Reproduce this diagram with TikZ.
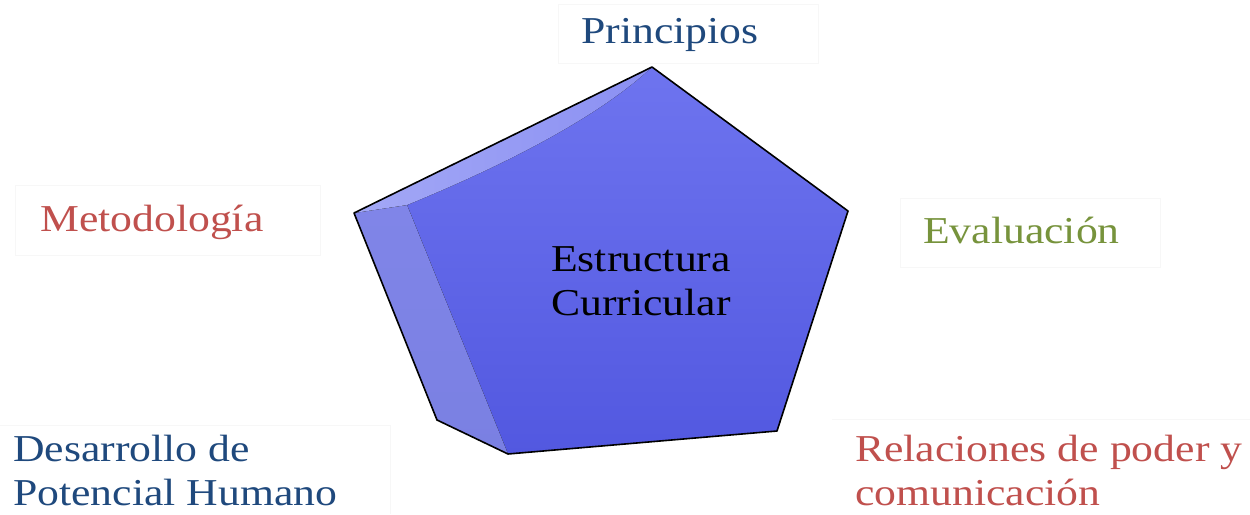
\documentclass[tikz,border=0pt]{standalone}
\usepackage{fontspec}
\setmainfont{Liberation Serif}[FakeStretch=1.15]
\definecolor{tblue}{HTML}{1F497D}
\definecolor{tred}{HTML}{C0504D}
\definecolor{tgreen}{HTML}{77933C}
\definecolor{faceTop}{HTML}{6E74EF}
\definecolor{faceBot}{HTML}{5258E0}
\definecolor{sideTop}{HTML}{8085E8}
\definecolor{sideBot}{HTML}{7A80E2}
\definecolor{topFace}{HTML}{A3A8F6}
\begin{document}
\begin{tikzpicture}[x=1pt,y=-1pt,
  lbl/.style={inner sep=0pt, font=\fontsize{38}{44}\selectfont, align=left, anchor=base west},
  faintbox/.style={draw=black!3, line width=0.8pt},
  outline/.style={draw=black, line width=1.6pt, line join=round}]
\useasboundingbox (0,0) rectangle (1250,514);
\fill[white] (0,0) rectangle (1250,514);
% faint text-box edges
\draw[faintbox] (558,4) rectangle (818,63);
\draw[faintbox] (15,185) rectangle (320,255);
\draw[faintbox] (900,198) rectangle (1160,267);
\draw[faintbox] (0,425) -- (390,425) -- (390,514);
\draw[faintbox] (832,419) -- (1250,419);
% pentagon
\coordinate (T) at (652,67);
\coordinate (R) at (848,211);
\coordinate (BR) at (777,431);
\coordinate (BL) at (508,454);
\coordinate (Lb) at (437,420);
\coordinate (L) at (354,213);
\coordinate (I) at (407,205);
\fill[top color=faceTop, bottom color=faceBot] (I) -- (T) -- (R) -- (BR) -- (BL) -- cycle;
\fill[top color=sideTop, bottom color=sideBot] (L) -- (I) -- (BL) -- (Lb) -- cycle;
\fill[left color=topFace, right color=faceTop!80!white] (L) -- (T) .. controls (590,125) and (480,175) .. (I) -- cycle;
\draw[outline] (L) -- (T) -- (R) -- (BR) -- (BL) -- (Lb) -- cycle;
% labels
\node[lbl, text=black] (center) at (551,315) {Estructura\\Curricular};
\node[lbl, text=tblue] (princ) at (581,43) {Principios};
\node[lbl, text=tred] (metod) at (40,231) {Metodología};
\node[lbl, text=tgreen] (eval) at (923,243) {Evaluación};
\node[lbl, text=tblue] (desar) at (13,505) {Desarrollo de\\Potencial Humano};
\node[lbl, text=tred] (relac) at (855,505) {Relaciones de poder y\\comunicación};
\end{tikzpicture}
\end{document}
